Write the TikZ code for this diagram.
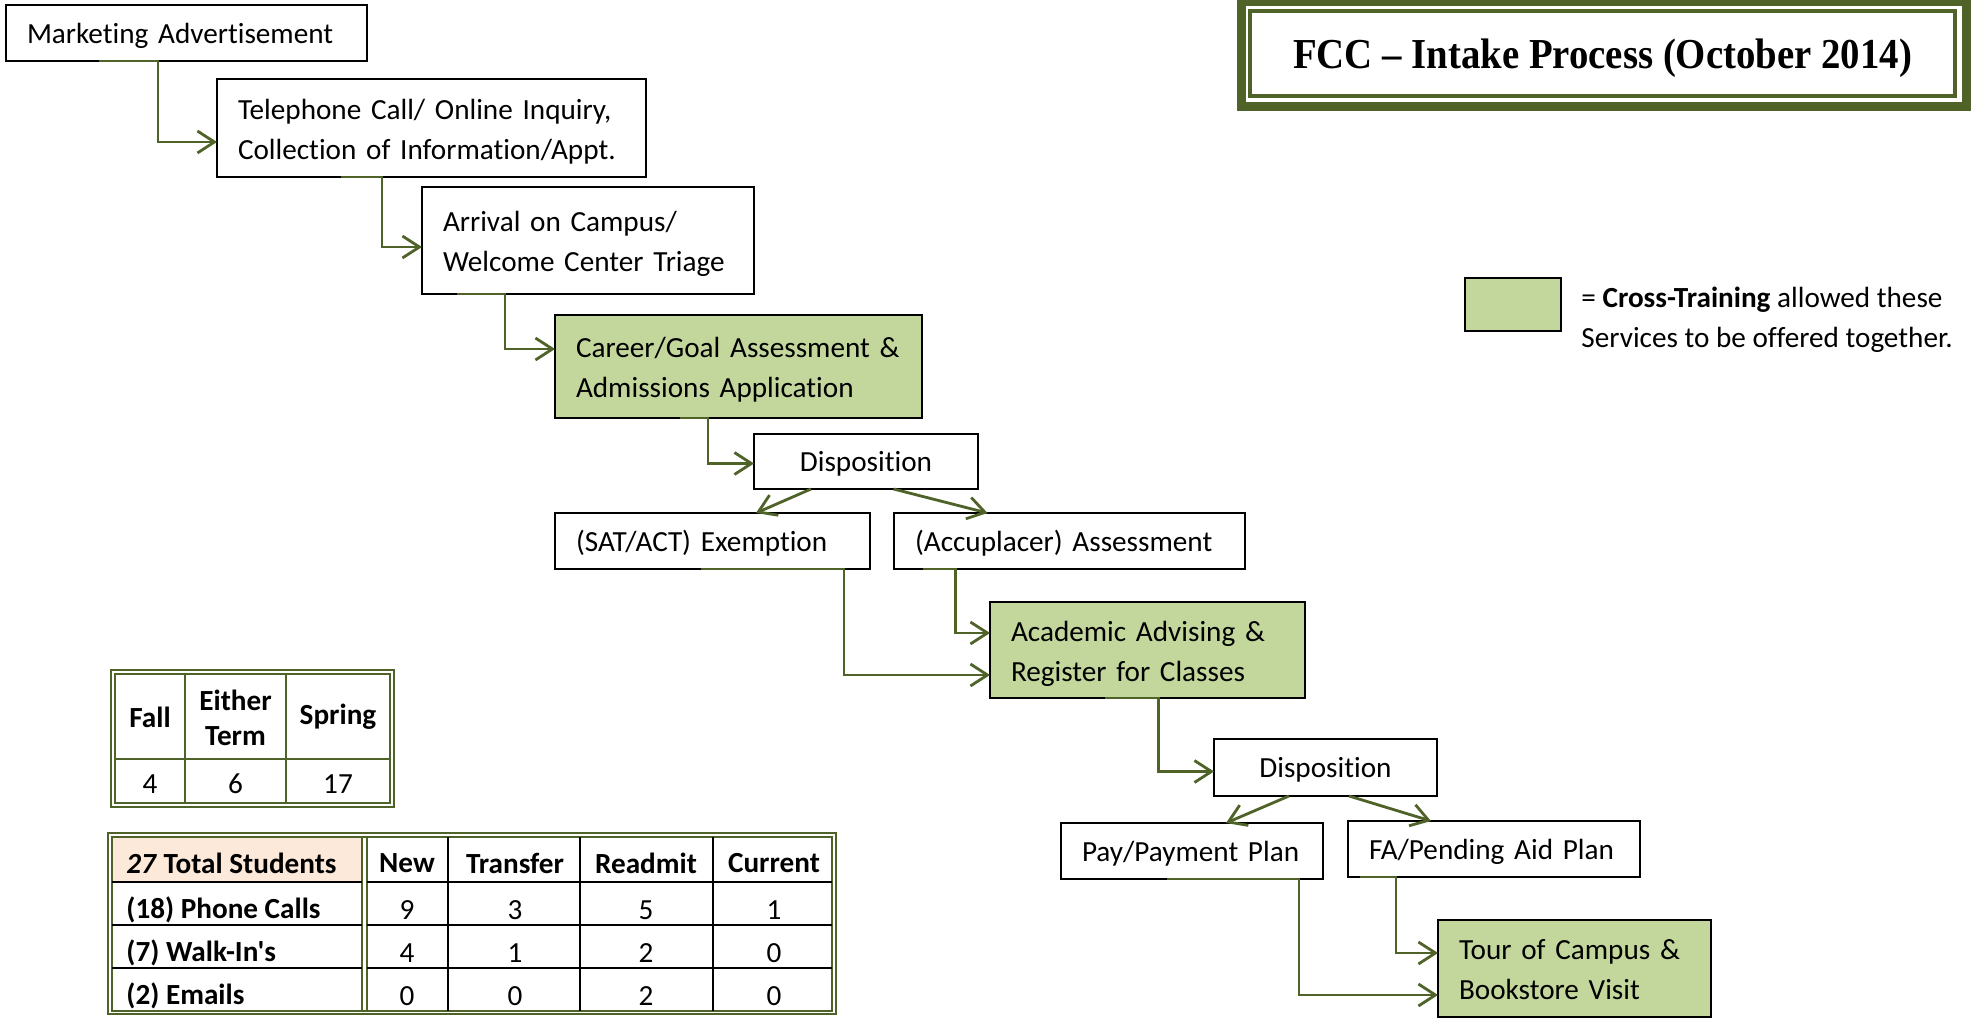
\documentclass[tikz,border=0pt]{standalone}
\usepackage{fontspec}
\setmainfont{Carlito}[Ligatures={TeXOff,NoCommon}]
\newfontfamily\titlefont{Liberation Serif}
\usetikzlibrary{arrows.meta,calc}
\definecolor{olive}{RGB}{79,98,40}
\definecolor{xgreen}{RGB}{195,214,155}
\definecolor{peach}{RGB}{253,233,217}
\tikzset{
  box/.style={draw=black, line width=1.1pt, inner ysep=0pt, inner xsep=10.5pt, outer sep=0pt,
    text depth=-1.2pt, align=left, anchor=north west, font=\fontsize{14.6}{20}\selectfont},
  twoline/.style={text depth=18.8pt},
  cbox/.style={box, align=center},
  gbox/.style={box, fill=xgreen},
  conn/.style={draw=olive, line width=1.4pt, -{Straight Barb[length=8.5pt,width=11pt]}},
  tline/.style={draw=olive, line width=1pt},
  bline/.style={draw=black, line width=1pt},
  ttext/.style={font=\fontsize{14.6}{17.5}\selectfont, inner sep=0pt, align=center},
  thead/.style={ttext, font=\bfseries\fontsize{14.6}{17.5}\selectfont},
}
\begin{document}
\begin{tikzpicture}[x=0.5pt,y=-0.5pt]
\useasboundingbox (0,0) rectangle (1975,1021);
\fill[white] (0,0) rectangle (1975,1021);

% title
\draw[olive, line width=4.5pt] (1241,2) rectangle (1966,106.3);
\draw[olive, line width=1.75pt] (1250,11) rectangle (1955,96);
\node[font=\titlefont\bfseries\fontsize{19.4}{22}\selectfont, inner sep=0pt] (title) at (1602.5,58) {\scalebox{1}[1.1]{FCC – Intake Process (October 2014)}};

% legend
\node[gbox, minimum width=48pt, minimum height=26.5pt, inner sep=0pt] (leg) at (1465,278) {};
\node[anchor=west, align=left, inner sep=0pt, font=\fontsize{14.6}{20}\selectfont] (legt) at (1581,320) {= \textbf{Cross-Training} allowed these\\Services to be offered together.};

% boxes
\node[box, text width=159.5pt, minimum height=28pt] (mkt) at (6,5) {Marketing Advertisement};
\node[box, twoline, text width=193.5pt, minimum height=49pt] (tel) at (217,79) {Telephone Call/ Online Inquiry,\\Collection of Information/Appt.};
\node[box, twoline, text width=145pt, minimum height=53.5pt] (arr) at (422,187) {Arrival on Campus/\\Welcome Center Triage};
\node[gbox, twoline, text width=162.5pt, minimum height=51.5pt] (car) at (555,315) {Career/Goal Assessment \&\\Admissions Application};
\node[cbox, text width=91pt, minimum height=27.5pt] (dis1) at (754,434) {Disposition};
\node[box, text width=136.5pt, minimum height=28pt] (sat) at (555,513) {(SAT/ACT) Exemption};
\node[box, text width=154.5pt, minimum height=28pt] (acc) at (894,513) {(Accuplacer) Assessment};
\node[gbox, twoline, text width=136.5pt, minimum height=48pt] (aca) at (990,602) {Academic Advising \&\\Register for Classes};
\node[cbox, text width=90.5pt, minimum height=28.5pt] (dis2) at (1214,739) {Disposition};
\node[box, text width=110pt, minimum height=28pt] (pay) at (1061,823) {Pay/Payment Plan};
\node[box, text width=125pt, minimum height=28pt] (fa) at (1348,821) {FA/Pending Aid Plan};
\node[gbox, twoline, text width=115.5pt, minimum height=48.5pt] (tour) at (1438,920) {Tour of Campus \&\\Bookstore Visit};

% connectors
\draw[conn] ($(mkt.south west)+(93,0)$) -| ($(tel.west)+(-59,14)$) -- ($(tel.west)+(0,14)$);
\draw[conn] ($(tel.south west)+(124,0)$) -| ($(arr.west)+(-40,6.5)$) -- ($(arr.west)+(0,6.5)$);
\draw[conn] ($(arr.south west)+(35,0)$) -| ($(car.west)+(-50,-17.5)$) -- ($(car.west)+(0,-17.5)$);
\draw[conn] ($(car.south west)+(125,0)$) -| ($(dis1.west)+(-46,2)$) -- ($(dis1.west)+(0,2)$);
\draw[conn] ($(dis1.south west)+(57,0)$) -- ($(sat.north west)+(201,0)$);
\draw[conn] ($(dis1.south west)+(139.5,0)$) -- ($(acc.north west)+(93.5,0)$);
\draw[conn] ($(sat.south west)+(146,0)$) -| ($(aca.west)+(-146,25)$) -- ($(aca.west)+(0,25)$);
\draw[conn] ($(acc.south west)+(29,0)$) -| ($(aca.west)+(-34.5,-17)$) -- ($(aca.west)+(0,-17)$);
\draw[conn] ($(aca.south west)+(115,0)$) -| ($(dis2.west)+(-55.5,4)$) -- ($(dis2.west)+(0,4)$);
\draw[conn] ($(dis2.south west)+(75,0)$) -- ($(pay.north west)+(165,0)$);
\draw[conn] ($(dis2.south west)+(135,0)$) -- ($(fa.north west)+(83,0)$);
\draw[conn] ($(pay.south west)+(106,0)$) -| ($(tour.west)+(-139,26.5)$) -- ($(tour.west)+(0,26.5)$);
\draw[conn] ($(fa.south west)+(12,0)$) -| ($(tour.west)+(-42,-15.5)$) -- ($(tour.west)+(0,-15.5)$);

% table 1
\draw[tline] (111,670) rectangle (394,807);
\draw[tline] (115,674) rectangle (390,803);
\draw[tline] (185,674) -- (185,803);
\draw[tline] (286,674) -- (286,803);
\draw[tline] (115,759) -- (390,759);
\node[thead] (t1a) at (150,717) {Fall};
\node[thead] (t1b) at (235.5,718) {Either\\Term};
\node[thead] (t1c) at (338,717) {Spring};
\node[ttext] (t1d) at (150,784) {4};
\node[ttext] (t1e) at (235.5,784) {6};
\node[ttext] (t1f) at (338,784) {17};

% table 2
\fill[peach] (112,836.5) rectangle (362,882);
\draw[tline] (108,833) rectangle (836,1014);
\draw[tline] (112,836.5) rectangle (832,1010.5);
\draw[tline] (362,836.5) -- (362,1010.5);
\draw[tline] (366.5,836.5) -- (366.5,1010.5);
\foreach \yy in {882,925,968} {
  \draw[bline] (112,\yy) -- (362,\yy);
  \draw[bline] (366.5,\yy) -- (832,\yy);
}
\foreach \xx in {448,580,713} {
  \draw[bline] (\xx,836.5) -- (\xx,1010.5);
}
\node[thead, anchor=west] (r0) at (126,863.5) {\textit{27} Total Students};
\node[thead, anchor=west] (r1) at (126,910) {(18) Phone Calls};
\node[thead, anchor=west] (r2) at (126,953) {(7) Walk-In's};
\node[thead, anchor=west] (r3) at (126,996) {(2) Emails};
\node[thead] (h1) at (407,863.5) {New};
\node[thead] (h2) at (515,863.5) {Transfer};
\node[thead] (h3) at (646,863.5) {Readmit};
\node[thead] (h4) at (774,863.5) {Current};
\node[ttext] (v11) at (407,910) {9};
\node[ttext] (v12) at (515,910) {3};
\node[ttext] (v13) at (646,910) {5};
\node[ttext] (v14) at (774,910) {1};
\node[ttext] (v21) at (407,953) {4};
\node[ttext] (v22) at (515,953) {1};
\node[ttext] (v23) at (646,953) {2};
\node[ttext] (v24) at (774,953) {0};
\node[ttext] (v31) at (407,996) {0};
\node[ttext] (v32) at (515,996) {0};
\node[ttext] (v33) at (646,996) {2};
\node[ttext] (v34) at (774,996) {0};
\end{tikzpicture}
\end{document}
